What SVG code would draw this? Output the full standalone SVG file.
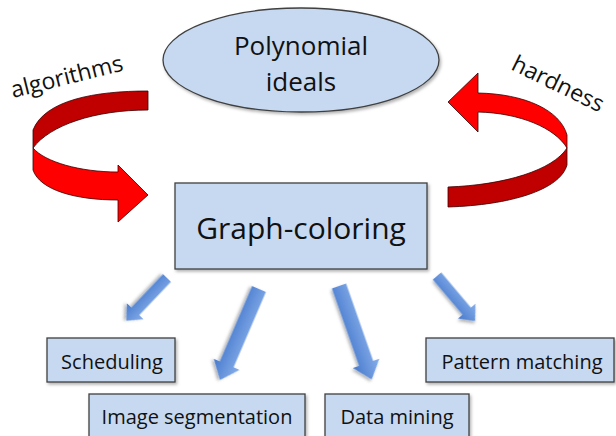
<svg xmlns="http://www.w3.org/2000/svg" width="616" height="436" viewBox="0 0 616 436">
<defs>
<linearGradient id="blueG" x1="0" y1="0" x2="0" y2="1">
<stop offset="0" stop-color="#86AEEA"/>
<stop offset="1" stop-color="#4779CC"/>
</linearGradient>
<filter id="sh" x="-10%" y="-10%" width="130%" height="140%">
<feDropShadow dx="1.5" dy="2" stdDeviation="1.5" flood-color="#000" flood-opacity="0.3"/>
</filter>
<style>
.node{fill:#C6D9F1;stroke:#404040;stroke-width:1.3}
.t{font-family:"Open Sans",Lato,sans-serif;fill:#111;text-anchor:middle}
.lbl{font-size:20px}
.dark{fill:#C00000;stroke:#3a0000;stroke-width:0.8}
.red{fill:#FF0000;stroke:#3a0000;stroke-width:0.8}
.blue{fill:url(#blueG);stroke:none;filter:url(#sh)}
.side{font-family:"Open Sans",Lato,sans-serif;fill:#111;font-size:23px}
</style>
</defs>
<rect width="616" height="436" fill="#fff"/>

<g id="poly">
<ellipse class="node" cx="301" cy="60" rx="138" ry="52" filter="url(#sh)"/>
<text class="t" x="301" y="55" font-size="26">Polynomial</text>
<text class="t" x="301" y="91" font-size="26">ideals</text>
</g>

<g id="graph">
<rect class="node" x="175" y="183" width="252" height="86" filter="url(#sh)"/>
<text class="t" x="301" y="239" font-size="30">Graph-coloring</text>
</g>

<g id="sched">
<rect class="node" x="47" y="338" width="128" height="44" filter="url(#sh)"/>
<text class="t lbl" x="112" y="369">Scheduling</text>
</g>

<g id="image">
<rect class="node" x="89" y="394" width="216" height="50" filter="url(#sh)"/>
<text class="t lbl" x="197" y="424">Image segmentation</text>
</g>

<g id="data">
<rect class="node" x="325" y="394" width="144" height="50" filter="url(#sh)"/>
<text class="t lbl" x="397" y="424">Data mining</text>
</g>

<g id="pattern">
<rect class="node" x="426" y="338" width="188" height="44" filter="url(#sh)"/>
<text class="t lbl" x="522" y="369">Pattern matching</text>
</g>

<g id="connectors">
<g id="alg-arrow">
<path class="dark" d="M148,91 C95,91 45,100 33,130 L33,148 C50,125 95,110 148,110 Z"/>
<path class="red" d="M33,148 C45,162 80,172 118,172 L118,165 L148,195 L118,222 L118,200 C75,200 40,190 33,170 Z"/>
</g>
<text class="side" transform="translate(13,98) rotate(-14)">algorithms</text>

<g id="hard-arrow">
<path class="dark" d="M567,148 L567,165 C560,190 510,205 448,207 L448,187 C505,185 553,170 567,148 Z"/>
<path class="red" d="M478,93 C525,94 560,110 567,135 L567,148 C555,128 520,113 478,112 L478,132 L448,102 L478,73 Z"/>
</g>
<text class="side" transform="translate(510,69) rotate(26)">hardness</text>

<polygon class="blue" transform="translate(167,278) rotate(133.6)" points="0,-5.5 46,-5.5 46,-11.5 59,0 46,11.5 46,5.5 0,5.5"/>
<polygon class="blue" transform="translate(259,289) rotate(113.2)" points="0,-7.5 82,-7.5 82,-14 99,0 82,14 82,7.5 0,7.5"/>
<polygon class="blue" transform="translate(339,286) rotate(70.7)" points="0,-7.5 82,-7.5 82,-14 99,0 82,14 82,7.5 0,7.5"/>
<polygon class="blue" transform="translate(437,276) rotate(49.8)" points="0,-5.5 46,-5.5 46,-11.5 59,0 46,11.5 46,5.5 0,5.5"/>
</g>
</svg>
